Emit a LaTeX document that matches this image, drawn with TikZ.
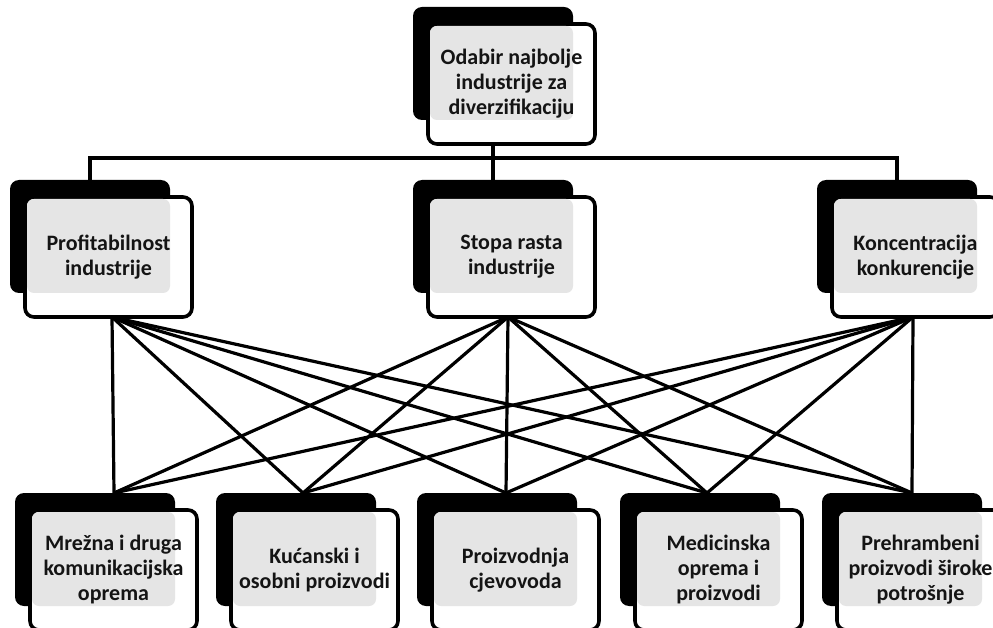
\documentclass[tikz,border=0pt]{standalone}
\usepackage{fontspec}
\setmainfont{Carlito}
\definecolor{boxgray}{RGB}{229,229,229}
\definecolor{txt}{RGB}{20,20,20}
\tikzset{
  backshape/.style={fill=black, rounded corners=9pt},
  frontshape/.style={fill=white, draw=black, line width=3.6pt, rounded corners=9pt},
  grayshape/.style={fill=boxgray, rounded corners=7pt},
  boxtext/.style={align=center, text=txt, font=\bfseries\fontsize{22}{25}\selectfont, inner sep=0pt},
  link/.style={draw=black, line width=3.2pt},
}
\newcommand\dbox[4]{%
  \fill[backshape] (#2,#3) rectangle ++(160,113);
  \draw[frontshape] (#2+15,#3+17) rectangle ++(167,120);
  \fill[grayshape] (#2+17,#3+19) rectangle (#2+160,#3+113);
  \node[boxtext] (#1) at (#2+98.5,#3+77) {#4};
}
\begin{document}
\begin{tikzpicture}[x=1pt,y=-1pt]
\useasboundingbox (0,0) rectangle (993,628);
% connector anchor points
\coordinate (tb) at (493,143);
\coordinate (tj) at (493,158);
\coordinate (hl) at (90,158);
\coordinate (hr) at (897,158);
\coordinate (m1t) at (90,180);
\coordinate (m2t) at (493,180);
\coordinate (m3t) at (897,180);
\coordinate (m1) at (112,317);
\coordinate (m2) at (508,317);
\coordinate (m3) at (913,317);
\coordinate (p1) at (114,493);
\coordinate (p2) at (303,493);
\coordinate (p3) at (506,493);
\coordinate (p4) at (707,493);
\coordinate (p5) at (912,493);
% tree
\draw[link] (tb) -- (tj);
\draw[link] (m1t) -- (hl) -- (hr) -- (m3t);
\draw[link] (tj) -- (m2t);
% full bipartite links
\foreach \m in {m1,m2,m3}{
  \foreach \p in {p1,p2,p3,p4,p5}{
    \draw[link] (\m) -- (\p);
  }
}
% boxes
\dbox{top}{413}{7}{Odabir najbolje\\industrije za\\diverzifikaciju}
\dbox{mid1}{10}{180}{Profitabilnost\\industrije}
\dbox{mid2}{413}{180}{Stopa rasta\\industrije}
\dbox{mid3}{817}{180}{Koncentracija\\konkurencije}
\dbox{bot1}{15}{493}{Mrežna i druga\\komunikacijska\\oprema}
\dbox{bot2}{216}{493}{Kućanski i\\osobni proizvodi}
\dbox{bot3}{417}{493}{Proizvodnja\\cjevovoda}
\dbox{bot4}{620}{493}{Medicinska\\oprema i\\proizvodi}
\dbox{bot5}{822}{493}{Prehrambeni\\proizvodi široke\\potrošnje}
\end{tikzpicture}
\end{document}
